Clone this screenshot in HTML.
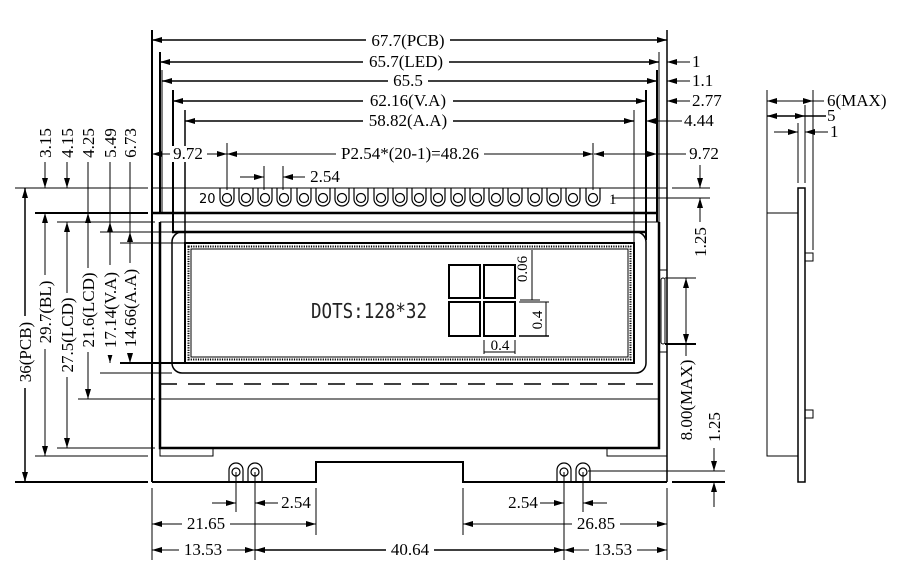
<!DOCTYPE html>
<html><head><meta charset="utf-8"><style>
html,body{margin:0;padding:0;background:#fff;}
svg{display:block;}
text{font-family:"Liberation Serif",serif;font-size:17px;fill:#000;}
.b{fill:#fff;stroke:none;}
</style></head><body>
<svg width="902" height="564" viewBox="0 0 902 564" xmlns="http://www.w3.org/2000/svg">
<defs>
<marker id="a" viewBox="0 0 10 6" refX="10" refY="3" markerWidth="10" markerHeight="6" markerUnits="userSpaceOnUse" orient="auto-start-reverse"><path d="M0,0 L10,3 L0,6 z" fill="#000"/></marker>
</defs>
<g stroke="#000" fill="none" stroke-width="1">
<line x1="152" y1="30" x2="152" y2="482" stroke-width="2"/>
<line x1="667" y1="30" x2="667" y2="482" stroke-width="1.5"/>
<line x1="160" y1="52" x2="160" y2="213" stroke-width="2"/>
<line x1="162" y1="70" x2="162" y2="213" stroke-width="1"/>
<line x1="173" y1="90" x2="173" y2="232" stroke-width="2"/>
<line x1="185" y1="110" x2="185" y2="243" stroke-width="1.5"/>
<line x1="659" y1="52" x2="659" y2="222" stroke-width="1"/>
<line x1="657" y1="70" x2="657" y2="222" stroke-width="2"/>
<line x1="646" y1="90" x2="646" y2="240" stroke-width="2"/>
<line x1="634" y1="110" x2="634" y2="243" stroke-width="1"/>

<line x1="152" y1="40" x2="667" y2="40" marker-start="url(#a)" marker-end="url(#a)" stroke-width="1.5"/>
<line x1="160" y1="62" x2="659" y2="62" marker-start="url(#a)" marker-end="url(#a)" stroke-width="1.5"/>
<line x1="690" y1="62" x2="667" y2="62" marker-end="url(#a)"/>
<line x1="162" y1="81" x2="657" y2="81" marker-start="url(#a)" marker-end="url(#a)" stroke-width="1.5"/>
<line x1="690" y1="81" x2="667" y2="81" marker-end="url(#a)"/>
<line x1="173" y1="101" x2="646" y2="101" marker-start="url(#a)" marker-end="url(#a)" stroke-width="1.5"/>
<line x1="690" y1="101" x2="667" y2="101" marker-end="url(#a)"/>
<line x1="185" y1="121" x2="634" y2="121" marker-start="url(#a)" marker-end="url(#a)" stroke-width="1.5"/>
<line x1="682" y1="121" x2="646" y2="121" marker-end="url(#a)"/>
<line x1="170" y1="154" x2="152" y2="154" marker-end="url(#a)"/>
<line x1="207" y1="154" x2="227" y2="154" marker-end="url(#a)"/>
<line x1="227" y1="154" x2="593" y2="154" marker-start="url(#a)" marker-end="url(#a)"/>
<line x1="686" y1="154" x2="594" y2="154" marker-end="url(#a)"/>
<line x1="640" y1="154" x2="657" y2="154" marker-end="url(#a)"/>
<line x1="227" y1="143" x2="227" y2="190"/>
<line x1="593" y1="143" x2="593" y2="190"/>
<line x1="264" y1="166" x2="264" y2="190"/>
<line x1="283" y1="166" x2="283" y2="190"/>
<line x1="240" y1="177" x2="264" y2="177" marker-end="url(#a)"/>
<line x1="305" y1="177" x2="283" y2="177" marker-end="url(#a)"/>

<line x1="15" y1="188" x2="148" y2="188"/>
<line x1="152" y1="188" x2="667" y2="188"/>
<line x1="612" y1="198" x2="710" y2="198"/>
<line x1="672" y1="188" x2="710" y2="188"/>
<line x1="35" y1="213" x2="148" y2="213" stroke-width="2"/>
<line x1="152" y1="213" x2="657" y2="213" stroke-width="2.5"/>
<line x1="57" y1="222" x2="155" y2="222"/>
<line x1="160" y1="222" x2="659" y2="222"/>
<line x1="100" y1="232" x2="172" y2="232"/>
<line x1="120" y1="243" x2="185" y2="243"/>
<line x1="120" y1="363" x2="185" y2="363" stroke-width="2"/>
<line x1="100" y1="373" x2="172" y2="373"/>
<line x1="78" y1="399" x2="155" y2="399"/>
<line x1="160" y1="399" x2="659" y2="399"/>
<line x1="57" y1="448" x2="155" y2="448"/>
<line x1="35" y1="456" x2="148" y2="456"/>
<line x1="15" y1="482" x2="148" y2="482" stroke-width="2"/>

<path d="M152,482 H316 V462 H463 V482 H667" stroke-width="2"/>
<path d="M160,222 V448 H659 V222" stroke-width="2.5"/>
<path d="M160,448 V456 H213 V448"/>
<path d="M607,448 V456 H667"/>
<rect x="172" y="232" width="474" height="141" rx="10" stroke-width="1.5"/>
<line x1="172" y1="232" x2="646" y2="232" stroke-width="2.5"/>
<line x1="160" y1="384" x2="659" y2="384" stroke-dasharray="17,11" stroke-width="1.5"/>
<rect x="185" y="243" width="449" height="120" stroke-width="2"/>
<rect x="188.5" y="246.5" width="442" height="113" stroke-width="2" stroke-dasharray="1.2,1.2"/>
<rect x="191" y="249" width="437" height="108" stroke-width="1"/>
<rect x="449" y="265" width="31" height="33" stroke-width="2"/>
<rect x="484" y="265" width="31" height="33" stroke-width="2"/>
<rect x="449" y="302" width="31" height="34" stroke-width="2"/>
<rect x="484" y="302" width="31" height="34" stroke-width="2"/>
<line x1="532" y1="250" x2="532" y2="300"/>
<line x1="520" y1="300" x2="540" y2="300"/>
<line x1="519" y1="302" x2="549" y2="302"/>
<line x1="519" y1="336" x2="549" y2="336" stroke-width="1.5"/>
<line x1="546" y1="302" x2="546" y2="336"/>
<line x1="484" y1="340" x2="484" y2="354"/>
<line x1="515" y1="340" x2="515" y2="354"/>
<line x1="484" y1="352" x2="515" y2="352"/>

<rect x="659" y="270" width="8" height="82"/>
<rect x="661" y="278" width="4" height="66" rx="2"/>
<line x1="665" y1="278" x2="696" y2="278"/>
<line x1="665" y1="344" x2="696" y2="344" stroke-width="2"/>
<line x1="686" y1="278" x2="686" y2="344" marker-start="url(#a)" marker-end="url(#a)"/>
<line x1="686" y1="344" x2="686" y2="360"/>
<line x1="700" y1="165" x2="700" y2="188" marker-end="url(#a)"/>
<line x1="700" y1="222" x2="700" y2="198" marker-end="url(#a)"/>
<line x1="588" y1="471" x2="725" y2="471"/>
<line x1="672" y1="482" x2="725" y2="482" stroke-width="2"/>
<line x1="714" y1="448" x2="714" y2="471" marker-end="url(#a)"/>
<line x1="714" y1="507" x2="714" y2="482" marker-end="url(#a)"/>

<g stroke-width="1.2">
<path d="M220,188 V199 A7,7 0 0 0 234,199 V188"/><circle cx="227" cy="198" r="4.5"/>
<path d="M239,188 V199 A7,7 0 0 0 253,199 V188"/><circle cx="246" cy="198" r="4.5"/>
<path d="M258,188 V199 A7,7 0 0 0 272,199 V188"/><circle cx="265" cy="198" r="4.5"/>
<path d="M277,188 V199 A7,7 0 0 0 291,199 V188"/><circle cx="284" cy="198" r="4.5"/>
<path d="M297,188 V199 A7,7 0 0 0 311,199 V188"/><circle cx="304" cy="198" r="4.5"/>
<path d="M316,188 V199 A7,7 0 0 0 330,199 V188"/><circle cx="323" cy="198" r="4.5"/>
<path d="M335,188 V199 A7,7 0 0 0 349,199 V188"/><circle cx="342" cy="198" r="4.5"/>
<path d="M354,188 V199 A7,7 0 0 0 368,199 V188"/><circle cx="361" cy="198" r="4.5"/>
<path d="M374,188 V199 A7,7 0 0 0 388,199 V188"/><circle cx="381" cy="198" r="4.5"/>
<path d="M393,188 V199 A7,7 0 0 0 407,199 V188"/><circle cx="400" cy="198" r="4.5"/>
<path d="M412,188 V199 A7,7 0 0 0 426,199 V188"/><circle cx="419" cy="198" r="4.5"/>
<path d="M431,188 V199 A7,7 0 0 0 445,199 V188"/><circle cx="438" cy="198" r="4.5"/>
<path d="M451,188 V199 A7,7 0 0 0 465,199 V188"/><circle cx="458" cy="198" r="4.5"/>
<path d="M470,188 V199 A7,7 0 0 0 484,199 V188"/><circle cx="477" cy="198" r="4.5"/>
<path d="M489,188 V199 A7,7 0 0 0 503,199 V188"/><circle cx="496" cy="198" r="4.5"/>
<path d="M508,188 V199 A7,7 0 0 0 522,199 V188"/><circle cx="515" cy="198" r="4.5"/>
<path d="M528,188 V199 A7,7 0 0 0 542,199 V188"/><circle cx="535" cy="198" r="4.5"/>
<path d="M547,188 V199 A7,7 0 0 0 561,199 V188"/><circle cx="554" cy="198" r="4.5"/>
<path d="M566,188 V199 A7,7 0 0 0 580,199 V188"/><circle cx="573" cy="198" r="4.5"/>
<path d="M586,188 V199 A7,7 0 0 0 600,199 V188"/><circle cx="593" cy="198" r="4.5"/>
</g>
<g stroke-width="1.2">
<path d="M229,482 V470 A7,7 0 0 1 243,470 V482"/><circle cx="236" cy="472" r="4"/>
<path d="M248,482 V470 A7,7 0 0 1 262,470 V482"/><circle cx="255" cy="472" r="4"/>
<path d="M557,482 V470 A7,7 0 0 1 571,470 V482"/><circle cx="564" cy="472" r="4"/>
<path d="M576,482 V470 A7,7 0 0 1 590,470 V482"/><circle cx="583" cy="472" r="4"/>
</g>
<line x1="152" y1="488" x2="152" y2="560"/>
<line x1="316" y1="488" x2="316" y2="535"/>
<line x1="463" y1="488" x2="463" y2="535"/>
<line x1="667" y1="488" x2="667" y2="560"/>
<line x1="236" y1="472" x2="236" y2="512"/>
<line x1="255" y1="472" x2="255" y2="560"/>
<line x1="564" y1="472" x2="564" y2="560"/>
<line x1="583" y1="472" x2="583" y2="512"/>
<line x1="212" y1="503" x2="236" y2="503" marker-end="url(#a)"/>
<line x1="278" y1="503" x2="255" y2="503" marker-end="url(#a)"/>
<line x1="540" y1="503" x2="564" y2="503" marker-end="url(#a)"/>
<line x1="607" y1="503" x2="583" y2="503" marker-end="url(#a)"/>
<line x1="152" y1="524" x2="316" y2="524" marker-start="url(#a)" marker-end="url(#a)"/>
<line x1="463" y1="524" x2="667" y2="524" marker-start="url(#a)" marker-end="url(#a)"/>
<line x1="152" y1="550" x2="255" y2="550" marker-start="url(#a)" marker-end="url(#a)"/>
<line x1="255" y1="550" x2="564" y2="550" marker-start="url(#a)" marker-end="url(#a)" stroke-width="1.5"/>
<line x1="564" y1="550" x2="667" y2="550" marker-start="url(#a)" marker-end="url(#a)"/>

<line x1="45" y1="162" x2="45" y2="188" marker-end="url(#a)"/>
<line x1="67" y1="162" x2="67" y2="188" marker-end="url(#a)"/>
<line x1="88" y1="162" x2="88" y2="188"/>
<line x1="110" y1="162" x2="110" y2="188"/>
<line x1="130" y1="162" x2="130" y2="188"/>
<line x1="25" y1="188" x2="25" y2="482" marker-start="url(#a)" marker-end="url(#a)" stroke-width="1.5"/>
<line x1="45" y1="213" x2="45" y2="456" marker-start="url(#a)" marker-end="url(#a)"/>
<line x1="67" y1="222" x2="67" y2="448" marker-start="url(#a)" marker-end="url(#a)"/>
<line x1="88" y1="188" x2="88" y2="399" marker-end="url(#a)"/>
<line x1="88" y1="232" x2="88" y2="213" marker-end="url(#a)"/>
<line x1="110" y1="188" x2="110" y2="363" marker-end="url(#a)"/>
<line x1="110" y1="243" x2="110" y2="222" marker-end="url(#a)"/>
<line x1="130" y1="188" x2="130" y2="363" marker-end="url(#a)"/>
<line x1="130" y1="243" x2="130" y2="232" marker-end="url(#a)"/>

<line x1="767" y1="90" x2="767" y2="213"/>
<line x1="813" y1="90" x2="813" y2="250"/>
<line x1="805" y1="105" x2="805" y2="183"/>
<line x1="798" y1="123" x2="798" y2="183"/>
<path d="M798,213 H767 V456 H798"/>
<rect x="798" y="188" width="7" height="294" stroke-width="1.5"/>
<rect x="805" y="253" width="8" height="8"/>
<rect x="805" y="410" width="8" height="8"/>
<line x1="767" y1="101" x2="813" y2="101" marker-start="url(#a)" marker-end="url(#a)"/>
<line x1="813" y1="101" x2="824" y2="101"/>
<line x1="767" y1="116" x2="805" y2="116" marker-start="url(#a)" marker-end="url(#a)" stroke-width="1.5"/>
<line x1="805" y1="116" x2="826" y2="116" stroke-width="1.5"/>
<line x1="774" y1="132" x2="798" y2="132" marker-end="url(#a)"/>
<line x1="828" y1="132" x2="805" y2="132" marker-end="url(#a)"/>
</g>

<!-- horizontal labels with white backgrounds -->
<g text-anchor="middle">
<rect class="b" x="366" y="32" width="84" height="16"/><text x="408" y="46">67.7(PCB)</text>
<rect class="b" x="363" y="54" width="86" height="16"/><text x="406" y="67">65.7(LED)</text>
<rect class="b" x="388" y="73" width="40" height="16"/><text x="408" y="86">65.5</text>
<rect class="b" x="363" y="93" width="90" height="16"/><text x="408" y="106">62.16(V.A)</text>
<rect class="b" x="363" y="113" width="90" height="16"/><text x="408" y="126">58.82(A.A)</text>
<rect class="b" x="336" y="146" width="148" height="16"/><text x="410" y="159">P2.54*(20-1)=48.26</text>
<rect class="b" x="170" y="146" width="36" height="16"/><text x="188" y="159">9.72</text>
<rect class="b" x="686" y="146" width="36" height="16"/><text x="704" y="159">9.72</text>
<text x="325" y="182">2.54</text>
<text x="296" y="508">2.54</text>
<text x="523" y="508">2.54</text>
<rect class="b" x="182" y="516" width="48" height="16"/><text x="206" y="529">21.65</text>
<rect class="b" x="572" y="516" width="48" height="16"/><text x="596" y="529">26.85</text>
<rect class="b" x="179" y="542" width="48" height="16"/><text x="203" y="555">13.53</text>
<rect class="b" x="386" y="542" width="48" height="16"/><text x="410" y="555">40.64</text>
<rect class="b" x="589" y="542" width="48" height="16"/><text x="613" y="555">13.53</text>
</g>
<text x="692" y="67">1</text>
<text x="692" y="86">1.1</text>
<text x="692" y="106">2.77</text>
<text x="684" y="126">4.44</text>
<text x="827" y="106">6(MAX)</text>
<text x="827" y="121">5</text>
<text x="830" y="137">1</text>

<!-- rotated labels -->
<g text-anchor="middle">
<g transform="translate(51,143) rotate(-90)"><text>3.15</text></g>
<g transform="translate(73,143) rotate(-90)"><text>4.15</text></g>
<g transform="translate(94,143) rotate(-90)"><text>4.25</text></g>
<g transform="translate(116,143) rotate(-90)"><text>5.49</text></g>
<g transform="translate(136,143) rotate(-90)"><text>6.73</text></g>
<g transform="translate(31,352) rotate(-90)"><rect class="b" x="-36" y="-13" width="72" height="16"/><text>36(PCB)</text></g>
<g transform="translate(51,312) rotate(-90)"><rect class="b" x="-37" y="-13" width="74" height="16"/><text>29.7(BL)</text></g>
<g transform="translate(73,335) rotate(-90)"><rect class="b" x="-42" y="-13" width="84" height="16"/><text>27.5(LCD)</text></g>
<g transform="translate(94,310) rotate(-90)"><rect class="b" x="-42" y="-13" width="84" height="16"/><text>21.6(LCD)</text></g>
<g transform="translate(116,310) rotate(-90)"><rect class="b" x="-45" y="-13" width="90" height="16"/><text>17.14(V.A)</text></g>
<g transform="translate(136,308) rotate(-90)"><rect class="b" x="-45" y="-13" width="90" height="16"/><text>14.66(A.A)</text></g>
<g transform="translate(692,400) rotate(-90)"><rect class="b" x="-44" y="-13" width="88" height="16"/><text>8.00(MAX)</text></g>
<g transform="translate(706,242) rotate(-90)"><rect class="b" x="-18" y="-13" width="36" height="16"/><text>1.25</text></g>
<g transform="translate(720,427) rotate(-90)"><rect class="b" x="-18" y="-13" width="36" height="16"/><text>1.25</text></g>
<g transform="translate(527,269) rotate(-90)"><text style="font-size:15px">0.06</text></g>
<g transform="translate(542,320) rotate(-90)"><text style="font-size:15px">0.4</text></g>
</g>
<text x="500" y="350" text-anchor="middle" style="font-size:15px">0.4</text>
<text x="311" y="318" textLength="116" lengthAdjust="spacingAndGlyphs" style="font-family:'DejaVu Sans Mono','Liberation Mono',monospace;font-size:20px;fill:#222">DOTS:128*32</text>
<text x="199" y="203" style="font-family:'DejaVu Sans',sans-serif;font-size:13px">20</text>
<text x="609" y="204" style="font-size:15px">1</text>
</svg>
</body></html>
